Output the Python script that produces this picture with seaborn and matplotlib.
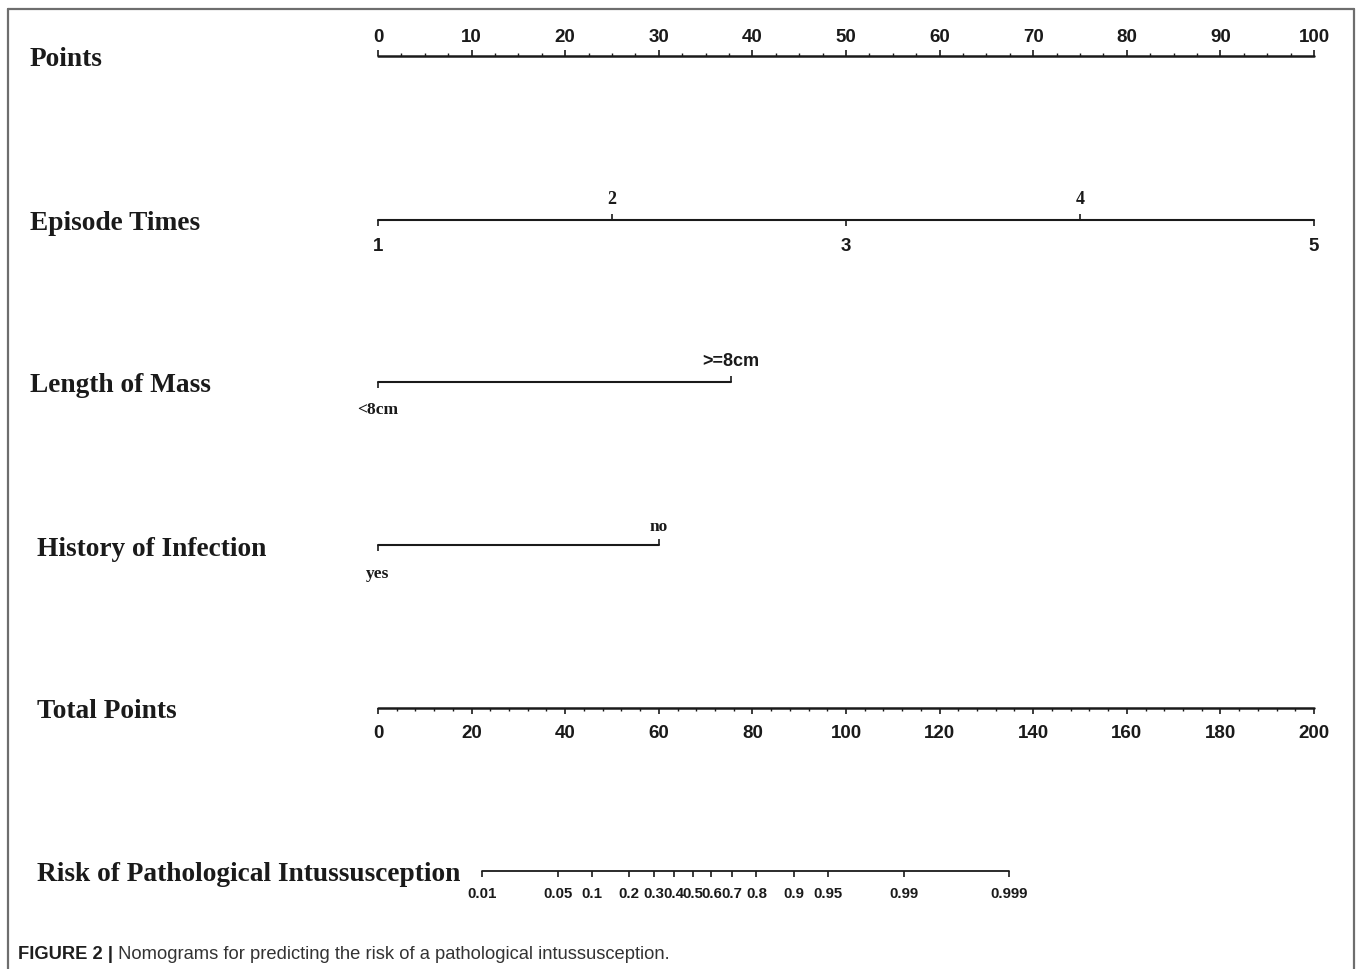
import numpy as np
import matplotlib
matplotlib.use('Agg')
import matplotlib.pyplot as plt
import matplotlib.ticker as mticker
from matplotlib import font_manager
from matplotlib.lines import Line2D
import seaborn as sns

sns.set_theme(style="white")

# Nomogram values (all positions are in "points", 0-100)
points_ticks = [0, 10, 20, 30, 40, 50, 60, 70, 80, 90, 100]

episode_levels = ['1', '2', '3', '4', '5']
episode_points = [0, 25, 50, 75, 100]

mass_levels = ['<8cm', '>=8cm']
mass_points = [0, 37.7]

infection_levels = ['yes', 'no']
infection_points = [0, 30]

total_ticks = [0, 20, 40, 60, 80, 100, 120, 140, 160, 180, 200]

risk_ticks = [0.01, 0.05, 0.1, 0.2, 0.3, 0.4, 0.5, 0.6, 0.7, 0.8, 0.9, 0.95, 0.99, 0.999]
risk_labels = ['0.01', '0.05', '0.1', '0.2', '0.3', '0.4', '0.5', '0.6', '0.7', '0.8',
               '0.9', '0.95', '0.99', '0.999']

# linear predictor = intercept + slope * total points
lp_intercept = -6.87
lp_slope = 0.1021

row_names = ['Points', 'Episode Times', 'Length of Mass', 'History of Infection',
             'Total Points', 'Risk of Pathological Intussusception']

SERIF = 'Liberation Serif'
SANS = 'Liberation Sans'
installed = {f.name for f in font_manager.fontManager.ttflist}
if 'Liberation Sans Narrow' in installed:
    RISK_FONT, RISK_SIZE = 'Liberation Sans Narrow', 12.3
else:
    RISK_FONT, RISK_SIZE = SANS, 10.8
INK = '#1a1a1a'

W, H = 1357, 970
fig = plt.figure(figsize=(W / 100, H / 100), dpi=100)
fig.patch.set_facecolor('white')

LEFT = 378 / W
WIDTH = (1314 - 378) / W
row_y = [57, 221, 383, 546, 709, 872]
label_x = [30, 30, 30, 37, 37, 37]


def row_axes(y_px, xlim=(0, 100)):
    ax = fig.add_axes([LEFT, 1 - y_px / H, WIDTH, 1e-4])
    ax.set_xlim(*xlim)
    ax.set_ylim(0, 1)
    ax.set_yticks([])
    for s in ax.spines.values():
        s.set_visible(False)
    ax.patch.set_visible(False)
    return ax


def baseline(ax, x0, x1, lw=1.5):
    sns.lineplot(x=[x0, x1], y=[0, 0], ax=ax, color=INK, linewidth=lw, clip_on=False)
    ax.set_xlabel('')
    ax.set_ylabel('')


def style_labels(labels, family, size=13.5):
    for lab in labels:
        lab.set_fontfamily(family)
        lab.set_fontweight('bold')
        lab.set_fontsize(size)
        lab.set_color(INK)


def top_axis(ax):
    sec = ax.secondary_xaxis('top')
    for s in sec.spines.values():
        s.set_visible(False)
    return sec


# Points
ax = row_axes(row_y[0])
baseline(ax, 0, 100, lw=1.8)
ax.xaxis.set_ticks_position('top')
ax.set_xticks(points_ticks, [str(v) for v in points_ticks])
ax.xaxis.set_minor_locator(mticker.MultipleLocator(2.5))
ax.tick_params(axis='x', which='major', top=True, bottom=False, labeltop=True,
               labelbottom=False, direction='out', length=4, width=1.2, pad=3.5, color=INK)
ax.tick_params(axis='x', which='minor', top=True, bottom=False, direction='out',
               length=2.2, width=1.0, color=INK)
style_labels(ax.get_xticklabels(), SANS)

# Episode Times
ax = row_axes(row_y[1])
baseline(ax, episode_points[0], episode_points[-1])
ax.set_xticks(episode_points[0::2], episode_levels[0::2])
ax.tick_params(axis='x', bottom=True, direction='out', length=4.5, width=1.2, pad=7.5, color=INK)
style_labels(ax.get_xticklabels(), SANS)
sec = top_axis(ax)
sec.set_xticks(episode_points[1::2], episode_levels[1::2])
sec.tick_params(axis='x', top=True, direction='out', length=4.5, width=1.2, pad=4.5, color=INK)
style_labels(sec.get_xticklabels(), SERIF, 13)

# Length of Mass
ax = row_axes(row_y[2])
baseline(ax, mass_points[0], mass_points[1])
ax.set_xticks(mass_points[:1], mass_levels[:1])
ax.tick_params(axis='x', bottom=True, direction='out', length=4.5, width=1.2, pad=9, color=INK)
style_labels(ax.get_xticklabels(), SERIF, 12.5)
sec = top_axis(ax)
sec.set_xticks(mass_points[1:], mass_levels[1:])
sec.tick_params(axis='x', top=True, direction='out', length=4.5, width=1.2, pad=4.5, color=INK)
style_labels(sec.get_xticklabels(), SANS, 13)

# History of Infection
ax = row_axes(row_y[3])
baseline(ax, infection_points[0], infection_points[1])
ax.set_xticks(infection_points[:1], infection_levels[:1])
ax.tick_params(axis='x', bottom=True, direction='out', length=4.5, width=1.2, pad=10, color=INK)
style_labels(ax.get_xticklabels(), SERIF, 12.5)
sec = top_axis(ax)
sec.set_xticks(infection_points[1:], infection_levels[1:])
sec.tick_params(axis='x', top=True, direction='out', length=4.5, width=1.2, pad=3.5, color=INK)
style_labels(sec.get_xticklabels(), SERIF, 12.5)

# Total Points
ax = row_axes(row_y[4], xlim=(0, 200))
baseline(ax, 0, 200, lw=1.8)
ax.set_xticks(total_ticks, [str(v) for v in total_ticks])
ax.xaxis.set_minor_locator(mticker.MultipleLocator(4))
ax.tick_params(axis='x', which='major', bottom=True, direction='out', length=4,
               width=1.2, pad=7.5, color=INK)
ax.tick_params(axis='x', which='minor', bottom=True, direction='out', length=2.4,
               width=1.0, color=INK)
style_labels(ax.get_xticklabels(), SANS)


# Risk: probability placed on the total-points scale through the logistic link
def to_points(p):
    p = np.clip(p, 1e-9, 1 - 1e-9)
    return (np.log(p / (1 - p)) - lp_intercept) / lp_slope


def to_prob(tp):
    return 1 / (1 + np.exp(-(lp_intercept + lp_slope * np.asarray(tp))))


ax = row_axes(row_y[5])
ax.set_xscale('function', functions=(to_points, to_prob))
ax.set_xlim(to_prob(0), to_prob(200))
baseline(ax, risk_ticks[0], risk_ticks[-1], lw=1.3)
ax.set_xlim(to_prob(0), to_prob(200))
ax.set_xticks(risk_ticks, risk_labels)
ax.xaxis.set_minor_locator(mticker.NullLocator())
ax.tick_params(axis='x', bottom=True, direction='out', length=4.5, width=1.2, pad=6, color=INK)
style_labels(ax.get_xticklabels(), RISK_FONT, RISK_SIZE)

# row titles
for name, y, x in zip(row_names, row_y, label_x):
    fig.text(x / W, 1 - (y + 3) / H, name, family=SERIF, weight='bold', fontsize=19.7,
             color=INK, ha='left', va='center')

# frame around the panel (open at the bottom)
frame_kw = dict(color='#6e6e6e', linewidth=1.6, transform=fig.transFigure)
fig.add_artist(Line2D([8 / W, 8 / W], [0, 1 - 10 / H], **frame_kw))
fig.add_artist(Line2D([8 / W, 1354 / W], [1 - 10 / H, 1 - 10 / H], **frame_kw))
fig.add_artist(Line2D([1354 / W, 1354 / W], [0, 1 - 10 / H], **frame_kw))

# caption
cap = fig.text(18 / W, 1 - 955 / H, 'FIGURE 2 |', family=SANS, weight='bold',
               fontsize=13.2, color='#1e1e1e', ha='left', va='center')
ax.annotate(' Nomograms for predicting the risk of a pathological intussusception.',
            xy=(1, 0.5), xycoords=cap, family=SANS, fontsize=13.2, color='#333333',
            ha='left', va='center', annotation_clip=False)

fig.savefig('out.png', dpi=100)
